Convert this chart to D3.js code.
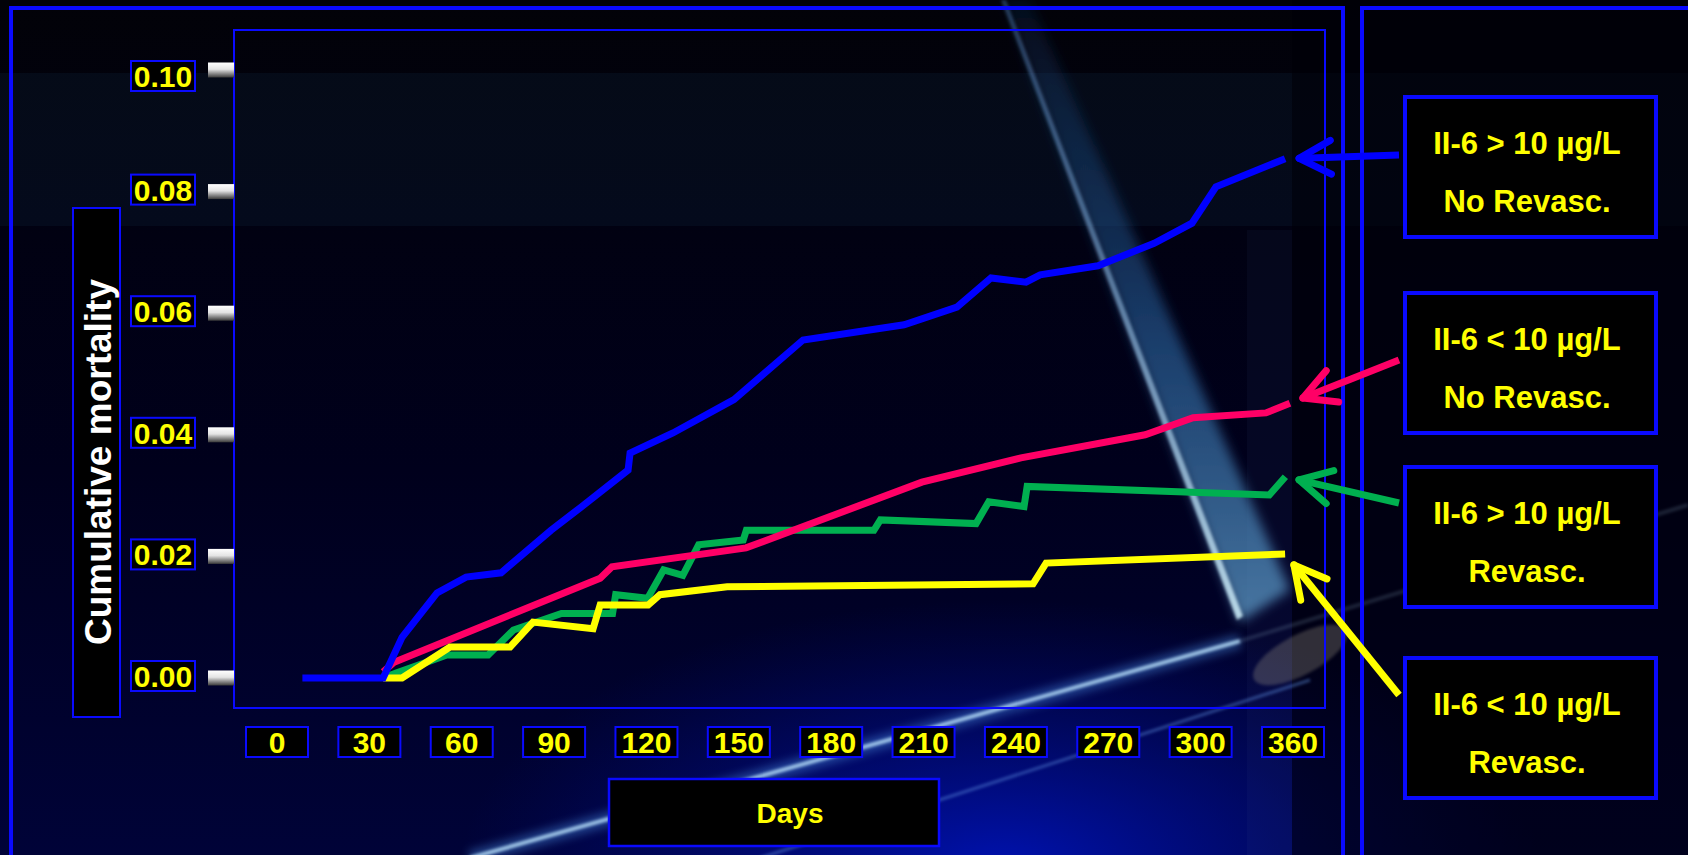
<!DOCTYPE html>
<html>
<head>
<meta charset="utf-8">
<script src="https://cdn.jsdelivr.net/npm/d3@7"></script>
<style>
  body { margin: 0; background: #000; overflow: hidden; }
  svg { display: block; }
  text { font-family: "Liberation Sans", Arial, sans-serif; font-weight: bold; }
</style>
</head>
<body>
<svg id="chart"></svg>
<script>
// ---------------- data ----------------
var xLabels = ["0", "30", "60", "90", "120", "150", "180", "210", "240", "270", "300", "360"];
var yTicks = [0, 0.02, 0.04, 0.06, 0.08, 0.10];

// [day, cumulative mortality]
var hiNoRevasc = [[9, 0], [37.6, 0], [44.3, 0.0067], [56.7, 0.014], [67, 0.0166], [79.4, 0.0173],
  [97.1, 0.0243], [107.7, 0.0281], [124.4, 0.0342], [125.1, 0.037], [140.3, 0.0403], [161.9, 0.0458],
  [186.4, 0.0556], [222.2, 0.0581], [240.9, 0.061], [253, 0.0658], [265.4, 0.0651], [270.4, 0.0663],
  [290.9, 0.0678], [310.8, 0.0715], [324.2, 0.0748], [332.7, 0.0808], [357.2, 0.0854]];
var loNoRevasc = [[37.6, 0.001], [41.5, 0.0026], [114.5, 0.0164], [118.7, 0.0183], [166.2, 0.0214],
  [228.5, 0.0322], [263.6, 0.0362], [307.6, 0.04], [324.6, 0.0428], [350.4, 0.0436], [358.9, 0.0452]];
var hiRevasc = [[37.6, 0], [42.2, 0.0008], [60.2, 0.0038], [74.8, 0.0038], [83.8, 0.0079], [100.8, 0.0106],
  [118.9, 0.0106], [120, 0.0137], [131.3, 0.0131], [137, 0.0178], [143.8, 0.0169], [149.4, 0.0219],
  [165.2, 0.0227], [166.3, 0.0243], [211.5, 0.0243], [213.8, 0.026], [247.7, 0.0254], [252.2, 0.029],
  [264.7, 0.0282], [265.8, 0.0315], [351.6, 0.0301], [357.3, 0.0331]];
var loRevasc = [[37.6, 0], [44.3, 0], [61.3, 0.0051], [82.6, 0.0051], [90.7, 0.0092], [112, 0.0081],
  [114.5, 0.012], [131.5, 0.012], [135.7, 0.0137], [159.5, 0.015], [267.9, 0.0155], [272.5, 0.0189],
  [357.2, 0.0204]];

var legendLine1 = ["II-6 > 10 µg/L", "II-6 < 10 µg/L", "II-6 > 10 µg/L", "II-6 < 10 µg/L"];
var legendLine2 = ["No Revasc.", "No Revasc.", "Revasc.", "Revasc."];

// ---------------- layout ----------------
var W = 1688, H = 855;
var svg = d3.select("#chart").attr("width", W).attr("height", H);
var defs = svg.append("defs");

var x = d3.scaleLinear().domain([0, 360]).range([277, 1293]);
var xCat = d3.scalePoint().domain(xLabels).range([277, 1293]);
var y = d3.scaleLinear().domain([0, 0.1]).range([678, 70]);

var BLUE = "#0a0aff", YEL = "#ffff00";

// ---------------- background (slide art) ----------------
var bg = defs.append("linearGradient").attr("id", "bg").attr("x1", 0).attr("y1", 0).attr("x2", 0).attr("y2", 1);
bg.append("stop").attr("offset", "0%").attr("stop-color", "#020208");
bg.append("stop").attr("offset", "55%").attr("stop-color", "#00001c");
bg.append("stop").attr("offset", "100%").attr("stop-color", "#000338");
var glow = defs.append("radialGradient").attr("id", "glow").attr("cx", 0.5).attr("cy", 0.5).attr("r", 0.5);
glow.append("stop").attr("offset", "0%").attr("stop-color", "#0012b0").attr("stop-opacity", 1);
glow.append("stop").attr("offset", "100%").attr("stop-color", "#000a80").attr("stop-opacity", 0);
var comet = defs.append("linearGradient").attr("id", "comet").attr("x1", 0).attr("y1", 0).attr("x2", 0).attr("y2", 1);
comet.append("stop").attr("offset", "0%").attr("stop-color", "#1a4a8a").attr("stop-opacity", 0.15);
comet.append("stop").attr("offset", "55%").attr("stop-color", "#2f70b0").attr("stop-opacity", 0.55);
comet.append("stop").attr("offset", "100%").attr("stop-color", "#5f9cc8").attr("stop-opacity", 0.75);
var edge = defs.append("linearGradient").attr("id", "edge").attr("x1", 0).attr("y1", 0).attr("x2", 0).attr("y2", 1);
edge.append("stop").attr("offset", "0%").attr("stop-color", "#5a8ed0").attr("stop-opacity", 0.35);
edge.append("stop").attr("offset", "100%").attr("stop-color", "#c8e8f4").attr("stop-opacity", 0.9);
defs.append("filter").attr("id", "blur6").append("feGaussianBlur").attr("stdDeviation", 6);
defs.append("filter").attr("id", "blur2").append("feGaussianBlur").attr("stdDeviation", 1.4);
defs.append("filter").attr("id", "blur5").append("feGaussianBlur").attr("stdDeviation", 5);

var tickGrad = defs.append("linearGradient").attr("id", "tickg").attr("x1", 0).attr("y1", 0).attr("x2", 0).attr("y2", 1);
tickGrad.append("stop").attr("offset", "0%").attr("stop-color", "#ffffff");
tickGrad.append("stop").attr("offset", "45%").attr("stop-color", "#e4e4e4");
tickGrad.append("stop").attr("offset", "100%").attr("stop-color", "#3a3a3a");

svg.append("rect").attr("width", W).attr("height", H).attr("fill", "url(#bg)");
svg.append("ellipse").attr("cx", 1000).attr("cy", 870).attr("rx", 540).attr("ry", 270).attr("fill", "url(#glow)");
svg.append("rect").attr("x", 0).attr("y", 73).attr("width", W).attr("height", 153)
  .attr("fill", "#0b1d30").attr("opacity", 0.35);
svg.append("rect").attr("x", 1292).attr("y", 0).attr("width", 396).attr("height", H)
  .attr("fill", "#000008").attr("opacity", 0.55);
svg.append("rect").attr("x", 1247).attr("y", 230).attr("width", 45).attr("height", 625)
  .attr("fill", "#4060a0").attr("opacity", 0.07);

// comet streak: soft glow to the right of a thin bright edge
svg.append("path").attr("d", "M1003,0 L1030,0 L1290,590 L1240,622 Z")
  .attr("fill", "url(#comet)").attr("filter", "url(#blur6)");
svg.append("path").attr("d", "M1001,0 L1006,0 L1243,616 L1237,620 Z")
  .attr("fill", "url(#edge)").attr("filter", "url(#blur2)");
svg.append("ellipse").attr("cx", 1300).attr("cy", 655).attr("rx", 52).attr("ry", 20)
  .attr("transform", "rotate(-28 1300 655)").attr("fill", "#a09a88").attr("opacity", 0.3)
  .attr("filter", "url(#blur2)");
// lower streaks
svg.append("line").attr("x1", 470).attr("y1", 858).attr("x2", 1240).attr("y2", 641)
  .attr("stroke", "#4a8ae0").attr("stroke-width", 14).attr("opacity", 0.45).attr("filter", "url(#blur5)");
svg.append("line").attr("x1", 470).attr("y1", 858).attr("x2", 1240).attr("y2", 641)
  .attr("stroke", "#b4dcf8").attr("stroke-width", 4).attr("opacity", 0.85).attr("filter", "url(#blur2)");
svg.append("line").attr("x1", 1240).attr("y1", 641).attr("x2", 1688).attr("y2", 505)
  .attr("stroke", "#8aa8c0").attr("stroke-width", 4).attr("opacity", 0.2).attr("filter", "url(#blur2)");
svg.append("line").attr("x1", 760).attr("y1", 858).attr("x2", 1310).attr("y2", 680)
  .attr("stroke", "#5f90e0").attr("stroke-width", 3).attr("opacity", 0.45).attr("filter", "url(#blur2)");

// ---------------- frames ----------------
svg.append("rect").attr("x", 11).attr("y", 8).attr("width", 1332).attr("height", 900)
  .attr("fill", "none").attr("stroke", BLUE).attr("stroke-width", 4);
svg.append("rect").attr("x", 1362).attr("y", 8).attr("width", 1324).attr("height", 900)
  .attr("fill", "none").attr("stroke", BLUE).attr("stroke-width", 4);
svg.append("rect").attr("x", 234).attr("y", 30).attr("width", 1091).attr("height", 678)
  .attr("fill", "none").attr("stroke", BLUE).attr("stroke-width", 2);

// ---------------- y axis ----------------
var yAxis = svg.append("g").attr("class", "y-axis");
var yt = yAxis.selectAll("g").data(yTicks).enter().append("g")
  .attr("transform", function (d) { return "translate(0," + y(d) + ")"; });
yt.append("rect").attr("x", 208).attr("y", -7.5).attr("width", 26).attr("height", 15).attr("fill", "url(#tickg)");
// the top label box sits a little below its tick on the slide
var labelShift = function (d) { return d === 0.10 ? 6 : -2; };
yt.append("rect").attr("x", 131).attr("y", function (d) { return labelShift(d) - 15; })
  .attr("width", 64).attr("height", 30)
  .attr("fill", "#000").attr("stroke", BLUE).attr("stroke-width", 2);
yt.append("text").attr("x", 163).attr("y", function (d) { return labelShift(d) + 11; })
  .attr("text-anchor", "middle")
  .attr("fill", YEL).style("font-size", "30px")
  .text(function (d) { return d3.format(".2f")(d); });

svg.append("rect").attr("x", 73).attr("y", 208).attr("width", 47).attr("height", 509)
  .attr("fill", "#000").attr("stroke", BLUE).attr("stroke-width", 2);
svg.append("text").attr("transform", "translate(111,462) rotate(-90)")
  .attr("text-anchor", "middle").attr("fill", "#fff").style("font-size", "37px")
  .text("Cumulative mortality");

// ---------------- x axis ----------------
var xt = svg.append("g").attr("class", "x-axis").selectAll("g").data(xLabels).enter().append("g")
  .attr("transform", function (d) { return "translate(" + xCat(d) + ",742)"; });
xt.append("rect").attr("x", -31).attr("y", -15).attr("width", 62).attr("height", 30)
  .attr("fill", "#000").attr("stroke", BLUE).attr("stroke-width", 2);
xt.append("text").attr("y", 11).attr("text-anchor", "middle").attr("fill", YEL)
  .style("font-size", "30px").text(function (d) { return d; });

svg.append("rect").attr("x", 609).attr("y", 779).attr("width", 330).attr("height", 67)
  .attr("fill", "#000").attr("stroke", BLUE).attr("stroke-width", 2.5);
svg.append("text").attr("x", 790).attr("y", 823).attr("text-anchor", "middle")
  .attr("fill", YEL).style("font-size", "28px").text("Days");

// ---------------- curves ----------------
var series = [
  { name: "hiRevasc", values: hiRevasc, color: "#00b050", tailY: 503 },
  { name: "loNoRevasc", values: loNoRevasc, color: "#ff0066", tailY: 360 },
  { name: "loRevasc", values: loRevasc, color: "#ffff00", tailY: 695 },
  { name: "hiNoRevasc", values: hiNoRevasc, color: "#0000ff", tailY: 155 }
];

var line = d3.line()
  .x(function (d) { return x(d[0]); })
  .y(function (d) { return y(d[1]); });

svg.append("g").selectAll("path").data(series).enter().append("path")
  .attr("d", function (d) { return line(d.values); })
  .attr("fill", "none")
  .attr("stroke", function (d) { return d.color; })
  .attr("stroke-width", 7)
  .attr("stroke-linejoin", "miter");

// ---------------- legend boxes + arrows ----------------
var boxTops = [97, 293, 467, 658];
var lg = svg.append("g").selectAll("g").data(boxTops).enter().append("g")
  .attr("transform", function (d) { return "translate(1405," + d + ")"; });
lg.append("rect").attr("width", 251).attr("height", 140)
  .attr("fill", "#000").attr("stroke", BLUE).attr("stroke-width", 4);
lg.append("text").attr("x", 122).attr("y", 57).attr("text-anchor", "middle")
  .attr("fill", YEL).style("font-size", "31px")
  .text(function (d, i) { return legendLine1[i]; });
lg.append("text").attr("x", 122).attr("y", 115).attr("text-anchor", "middle")
  .attr("fill", YEL).style("font-size", "31px")
  .text(function (d, i) { return legendLine2[i]; });

var arrows = svg.append("g").selectAll("g").data(series).enter().append("g")
  .attr("stroke", function (d) { return d.color; })
  .attr("stroke-width", 7).attr("stroke-linecap", "round").attr("fill", "none");
arrows.each(function (d) {
  var last = d.values[d.values.length - 1];
  var lx = x(last[0]), ly = y(last[1]);
  var tx = 1399, ty = d.tailY;
  var dx = tx - lx, dy = ty - ly, len = Math.sqrt(dx * dx + dy * dy);
  var ux = dx / len, uy = dy / len;
  var px = lx + ux * 14, py = ly + uy * 14;
  var a = 28 * Math.PI / 180, L = 36;
  var g = d3.select(this);
  g.append("line").attr("x1", tx).attr("y1", ty).attr("x2", px + ux * 3).attr("y2", py + uy * 3).attr("stroke-linecap", "butt");
  [a, -a].forEach(function (t) {
    var rx = ux * Math.cos(t) - uy * Math.sin(t);
    var ry = ux * Math.sin(t) + uy * Math.cos(t);
    g.append("line").attr("x1", px).attr("y1", py).attr("x2", px + rx * L).attr("y2", py + ry * L);
  });
});
</script>
</body>
</html>
